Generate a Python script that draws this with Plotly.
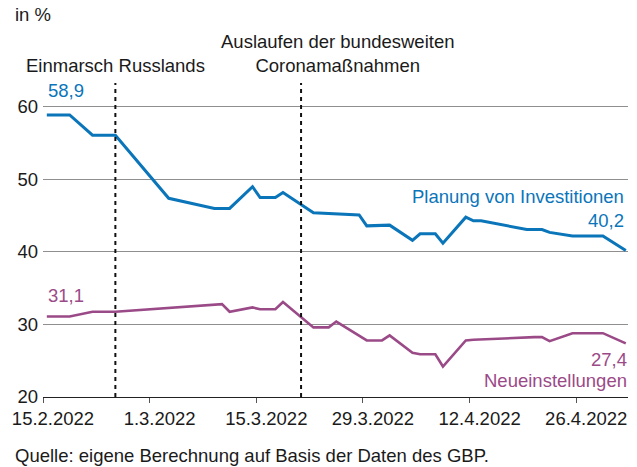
import plotly.graph_objects as go

# ── Data ──────────────────────────────────────────────────────────────
inv_dates = [
    "2022-02-15", "2022-02-18", "2022-02-21", "2022-02-24", "2022-03-03",
    "2022-03-09", "2022-03-11", "2022-03-14", "2022-03-15", "2022-03-17",
    "2022-03-18", "2022-03-22", "2022-03-28", "2022-03-29", "2022-04-01",
    "2022-04-04", "2022-04-05", "2022-04-07", "2022-04-08", "2022-04-11",
    "2022-04-12", "2022-04-13", "2022-04-19", "2022-04-21", "2022-04-22",
    "2022-04-25", "2022-04-29", "2022-05-02",
]
inv_values = [
    58.9, 58.9, 56.1, 56.1, 47.4, 46.0, 46.0, 49.0, 47.5, 47.5,
    48.2, 45.4, 45.1, 43.6, 43.7, 41.6, 42.5, 42.5, 41.2, 44.8,
    44.3, 44.3, 43.1, 43.1, 42.7, 42.2, 42.2, 40.2,
]

hire_dates = [
    "2022-02-15", "2022-02-18", "2022-02-21", "2022-02-24", "2022-03-10",
    "2022-03-11", "2022-03-14", "2022-03-15", "2022-03-17", "2022-03-18",
    "2022-03-22", "2022-03-24", "2022-03-25", "2022-03-29", "2022-03-31",
    "2022-04-01", "2022-04-04", "2022-04-05", "2022-04-07", "2022-04-08",
    "2022-04-11", "2022-04-12", "2022-04-20", "2022-04-21", "2022-04-22",
    "2022-04-25", "2022-04-29", "2022-05-02",
]
hire_values = [
    31.1, 31.1, 31.75, 31.75, 32.8, 31.75, 32.35, 32.1, 32.1, 33.1,
    29.6, 29.6, 30.4, 27.8, 27.8, 28.5, 26.1, 25.9, 25.9, 24.2,
    27.8, 27.9, 28.25, 28.25, 27.7, 28.8, 28.8, 27.4,
]

tick_dates = ["2022-02-15", "2022-03-01", "2022-03-15", "2022-03-29", "2022-04-12", "2022-04-26"]
tick_labels = ["15.2.2022", "1.3.2022", "15.3.2022", "29.3.2022", "12.4.2022", "26.4.2022"]

events = [
    ("2022-02-24 12:00", "Einmarsch Russlands"),
    ("2022-03-20 21:00", "Auslaufen der bundesweiten<br>Coronamaßnahmen"),
]

BLUE = "#0b75ba"
PURPLE = "#9b4a88"
TXT = "#1a1a1a"
FONT = "Liberation Sans, Arial, sans-serif"
FS = 18.5


def de(v):
    return f"{v:.1f}".replace(".", ",")


def noon(ds):
    return [d + " 12:00" for d in ds]


fig = go.Figure()
fig.add_trace(go.Scatter(
    x=noon(inv_dates), y=inv_values, mode="lines",
    line=dict(color=BLUE, width=3), name="Planung von Investitionen",
))
fig.add_trace(go.Scatter(
    x=noon(hire_dates), y=hire_values, mode="lines",
    line=dict(color=PURPLE, width=2.6), name="Neueinstellungen",
))

# event markers
for d, label in events:
    fig.add_shape(type="line", xref="x", yref="paper", x0=d, x1=d, y0=0, y1=1,
                  line=dict(color="#111111", width=2, dash="4px,4px"), layer="above")

ann = []
ann.append(dict(x=events[0][0], y=1.057, xref="x", yref="paper", text=events[0][1],
                showarrow=False, xanchor="center", yanchor="middle"))
ann.append(dict(x=events[1][0], y=1.094, xref="x", yref="paper", text=events[1][1],
                showarrow=False, xanchor="center", yanchor="middle", xshift=36))

# value labels at start / end of series
x0_inv, x1_inv = noon(inv_dates)[0], noon(inv_dates)[-1]
x0_hire, x1_hire = noon(hire_dates)[0], noon(hire_dates)[-1]
ann += [
    dict(x=x0_inv, y=inv_values[0], text=de(inv_values[0]), xanchor="left", yanchor="middle",
         yshift=24, xshift=-1, font=dict(color=BLUE)),
    dict(x=x1_inv, y=inv_values[-1], text=de(inv_values[-1]), xanchor="right", yanchor="middle",
         yshift=30, font=dict(color=BLUE)),
    dict(x=x1_inv, y=inv_values[-1], text="Planung von Investitionen", xanchor="right",
         yanchor="middle", yshift=54, font=dict(color=BLUE)),
    dict(x=x0_hire, y=hire_values[0], text=de(hire_values[0]), xanchor="left", yanchor="middle",
         yshift=21, xshift=-1, font=dict(color=PURPLE)),
    dict(x=x1_hire, y=hire_values[-1], text=de(hire_values[-1]), xanchor="right", yanchor="middle",
         yshift=-16, xshift=3, font=dict(color=PURPLE)),
    dict(x=x1_hire, y=hire_values[-1], text="Neueinstellungen", xanchor="right",
         yanchor="middle", yshift=-37, xshift=3, font=dict(color=PURPLE)),
]
for a in ann[2:]:
    a.update(xref="x", yref="y", showarrow=False)

# unit and source
ann.append(dict(x=-0.0513, y=1.217, xref="paper", yref="paper", text="in %", showarrow=False,
                xanchor="left", yanchor="middle"))
ann.append(dict(x=-0.0513, y=-0.185, xref="paper", yref="paper",
                text="Quelle: eigene Berechnung auf Basis der Daten des GBP.", showarrow=False,
                xanchor="left", yanchor="middle"))

fig.update_layout(
    width=637, height=467,
    margin=dict(l=43, r=9, t=83, b=70),
    paper_bgcolor="white", plot_bgcolor="white",
    showlegend=False,
    font=dict(family=FONT, size=FS, color=TXT),
    annotations=ann,
)
fig.update_xaxes(
    type="date", range=["2022-02-15", "2022-05-02 19:00"],
    tickvals=tick_dates, ticktext=tick_labels,
    ticks="outside", ticklen=5, tickcolor="#555555", tickwidth=1,
    ticklabelshift=10,
    showgrid=False, showline=True, linecolor="#222222", linewidth=1.3,
    zeroline=False, fixedrange=True,
)
fig.update_yaxes(
    range=[20, 63.3], tickvals=[20, 30, 40, 50, 60],
    showgrid=True, gridcolor="#8f8f8f", gridwidth=1,
    zeroline=False, showline=False, ticks="", fixedrange=True,
    ticklabelstandoff=4,
)

# drop the default page margin so the figure sits at the window's top-left
fig.write_html("out.html", post_script="document.body.style.margin='0';",
               config={"displayModeBar": False})
